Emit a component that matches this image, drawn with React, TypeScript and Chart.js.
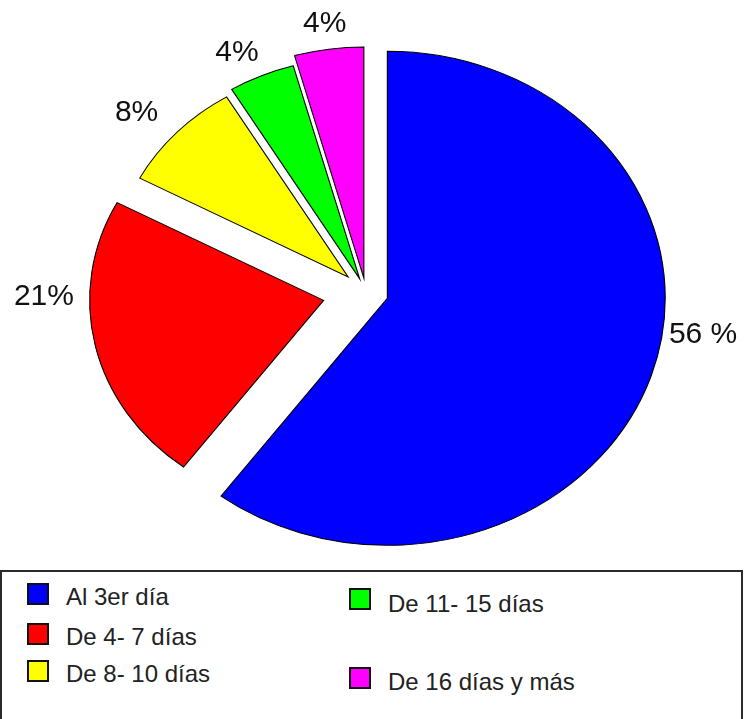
import React, { useEffect, useRef } from "react";
import { Chart, registerables } from "chart.js";

Chart.register(...registerables);

// ---- data ----
const CATEGORIES = ["Al 3er día", "De 4- 7 días", "De 8- 10 días", "De 11- 15 días", "De 16 días y más"];
const VALUES = [56, 21, 8, 4, 4];
const LABEL_TEXT = ["56 %", "21%", "8%", "4%", "4%"];
const COLORS = ["#0000FF", "#FF0000", "#FFFF00", "#00FF00", "#FF00FF"];

// ---- styling ----
const CANVAS_W = 749;
const CANVAS_H = 570;
const BASE_RADIUS = 247;
const STRETCH_X = 1.125;
const EXPLODE = [20, 38.6, 21.9, 14.3, 14.1];
const RADIUS_FACTOR = [1, 0.842, 0.85, 0.895, 0.935];
const LABEL_ANGLE_SHIFT = [-10.4, 13.6, -1.5, -1.8, 0.2];
const LABEL_GAP = [6, 14, 24, 17.5, 15];
const LABEL_FONT_SIZE = 30;
const FONT = '"Liberation Sans", Arial, sans-serif';

// legend layout (per item: square left/top, text left/baseline)
const LEGEND_LAYOUT = [
  { sx: 27, sy: 583, tx: 66, by: 605 },
  { sx: 27, sy: 623, tx: 66, by: 645 },
  { sx: 27, sy: 660, tx: 66, by: 682 },
  { sx: 349, sy: 588, tx: 388, by: 612 },
  { sx: 349, sy: 667, tx: 388, by: 690 },
];

const ellipsePlugin = {
  id: "ellipseExplode",
  afterDatasetsUpdate(chart: any) {
    const meta = chart.getDatasetMeta(0);
    const { left, right, top, bottom } = chart.chartArea;
    const cx = (left + right) / 2;
    const cy = (top + bottom) / 2;
    meta.data.forEach((el: any, i: number) => {
      const half = (el.startAngle + el.endAngle) / 2;
      const d = EXPLODE[i];
      el.x = cx + Math.cos(half) * d;
      el.y = cy + Math.sin(half) * d;
      el.outerRadius = BASE_RADIUS * RADIUS_FACTOR[i];
    });
  },
  beforeDatasetsDraw(chart: any) {
    const { ctx, chartArea } = chart;
    const cx = (chartArea.left + chartArea.right) / 2;
    ctx.save();
    ctx.translate(cx, 0);
    ctx.scale(STRETCH_X, 1);
    ctx.translate(-cx, 0);
  },
  afterDatasetsDraw(chart: any) {
    const { ctx, chartArea } = chart;
    ctx.restore();
    const cx = (chartArea.left + chartArea.right) / 2;
    const meta = chart.getDatasetMeta(0);
    ctx.save();
    ctx.font = `${LABEL_FONT_SIZE}px ${FONT}`;
    ctx.fillStyle = "#111";
    ctx.textAlign = "center";
    ctx.textBaseline = "middle";
    meta.data.forEach((el: any, i: number) => {
      const half = (el.startAngle + el.endAngle) / 2;
      const a = half + (LABEL_ANGLE_SHIFT[i] * Math.PI) / 180;
      const D = el.outerRadius + LABEL_GAP[i];
      const px = cx + (el.x - cx + D * Math.cos(a)) * STRETCH_X;
      const py = el.y + D * Math.sin(a);
      const text = LABEL_TEXT[i];
      const w = ctx.measureText(text).width;
      const h = LABEL_FONT_SIZE * 0.72;
      ctx.fillText(text, px + (Math.cos(a) * w) / 2, py + (Math.sin(a) * h) / 2);
    });
    ctx.restore();
  },
};

function PieChart() {
  const ref = useRef<HTMLCanvasElement | null>(null);
  useEffect(() => {
    if (!ref.current) return;
    const chart = new Chart(ref.current, {
      type: "pie",
      data: {
        labels: CATEGORIES,
        datasets: [
          {
            data: VALUES,
            backgroundColor: COLORS,
            borderColor: "#000",
            borderWidth: 1,
            borderJoinStyle: "miter",
          } as any,
        ],
      },
      options: {
        responsive: false,
        animation: false,
        events: [],
        radius: BASE_RADIUS,
        layout: { padding: { top: 14, right: 17, bottom: 0, left: 0 } },
        plugins: {
          legend: { display: false },
          tooltip: { enabled: false },
        },
      } as any,
      plugins: [ellipsePlugin],
    });
    return () => chart.destroy();
  }, []);
  return (
    <canvas
      ref={ref}
      width={CANVAS_W}
      height={CANVAS_H}
      style={{ position: "absolute", left: 0, top: 0, width: CANVAS_W, height: CANVAS_H, display: "block" }}
    />
  );
}

export default function App() {
  return (
    <div
      style={{
        position: "fixed",
        left: 0,
        top: 0,
        width: 749,
        height: 719,
        overflow: "hidden",
        background: "#fff",
        fontFamily: FONT,
      }}
    >
      <PieChart />
      <div
        style={{
          position: "absolute",
          left: 0,
          top: 570,
          width: 743,
          height: 200,
          boxSizing: "border-box",
          border: "2px solid #2a2a2a",
        }}
      />
      {CATEGORIES.map((c, i) => {
        const L = LEGEND_LAYOUT[i];
        return (
          <React.Fragment key={c}>
            <div
              style={{
                position: "absolute",
                left: L.sx,
                top: L.sy,
                width: 22,
                height: 22,
                boxSizing: "border-box",
                border: "2px solid #111",
                background: COLORS[i],
              }}
            />
            <div
              style={{
                position: "absolute",
                left: L.tx,
                top: L.by - 20.3,
                fontSize: 24,
                lineHeight: "24px",
                color: "#222",
                whiteSpace: "nowrap",
              }}
            >
              {c}
            </div>
          </React.Fragment>
        );
      })}
    </div>
  );
}
